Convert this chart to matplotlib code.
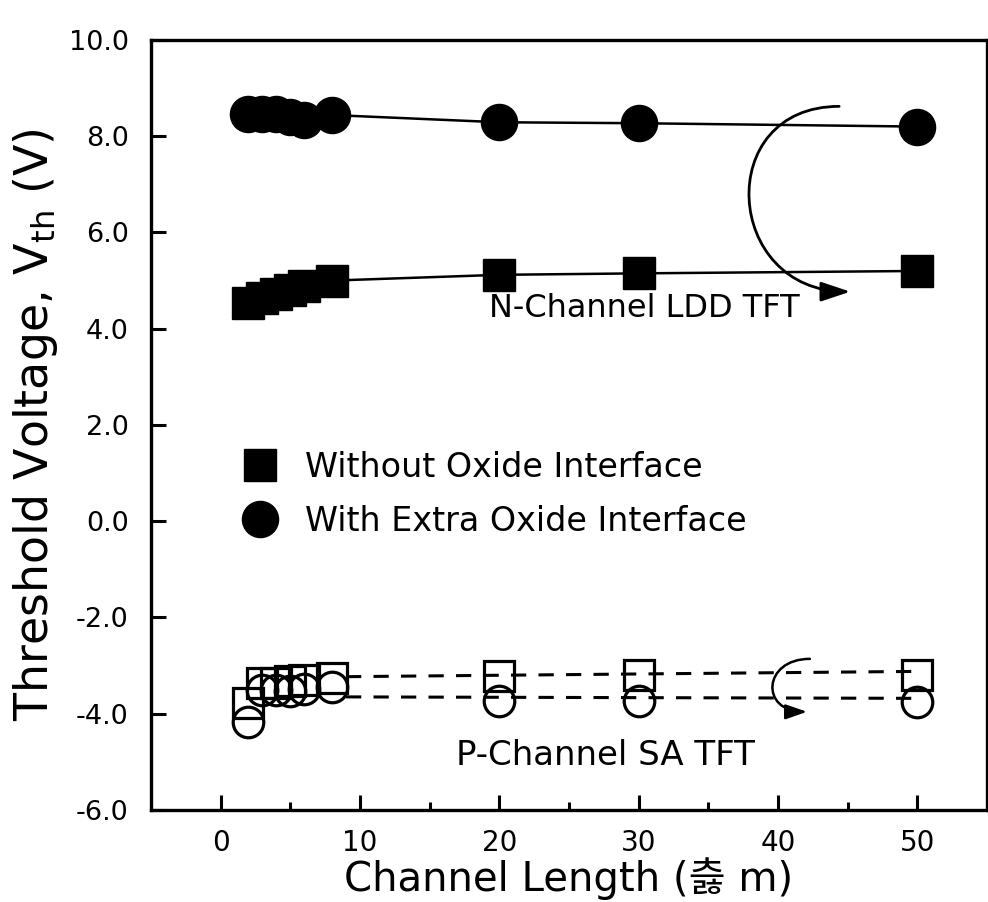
import matplotlib
matplotlib.use("Agg")
import matplotlib.pyplot as plt
from matplotlib.lines import Line2D
from matplotlib.patches import FancyArrowPatch
from matplotlib.path import Path

plt.rcParams['font.family'] = ['DejaVu Sans', 'Noto Sans CJK KR']
plt.rcParams['mathtext.default'] = 'regular'

# ---- data ----
length = [2, 3, 4, 5, 6, 8, 20, 30, 50]
n_without = [4.53, 4.64, 4.72, 4.80, 4.88, 5.00, 5.12, 5.15, 5.20]
n_with = [8.47, 8.47, 8.46, 8.40, 8.33, 8.44, 8.29, 8.27, 8.20]
p_without = [-3.77, -3.36, -3.36, -3.33, -3.30, -3.25, -3.21, -3.20, -3.19]
p_with = [-4.17, -3.50, -3.50, -3.52, -3.48, -3.44, -3.73, -3.74, -3.75]
# dashed fit lines of the P-channel devices
p_fit_x = [9, 50]
p_fit_without = [-3.23, -3.12]
p_fit_with = [-3.65, -3.68]

xticks = [0, 10, 20, 30, 40, 50]
yticks = [-6, -4, -2, 0, 2, 4, 6, 8, 10]
ytick_labels = ['-6.0', '-4.0', '-2.0', '0.0', '2.0', '4.0', '6.0', '8.0', '10.0']
legend_labels = ['Without Oxide Interface', 'With Extra Oxide Interface']
unit_char = chr(0xAC00 + (14 * 21 + 18) * 28 + 15)

# curved arrows (start, end, bulge to the left in x-units)
n_arrow = ((44.4, 8.62), (45.2, 4.77), 9.1)
p_arrow = ((42.3, -2.86), (42.1, -3.96), 3.4)

fig = plt.figure(figsize=(9.88, 9.02), dpi=100)
ax = fig.add_axes([0.1528, 0.102, 0.846, 0.8537])

ax.plot(length, n_without, '-', color='black', lw=1.8, marker='s',
        ms=23.5, mfc='black', mec='black')
ax.plot(length, n_with, '-', color='black', lw=1.8, marker='o',
        ms=26, mfc='black', mec='black')

ax.plot(p_fit_x, p_fit_without, '--', color='black', lw=2.2, dashes=(5, 4))
ax.plot(p_fit_x, p_fit_with, '--', color='black', lw=2.2, dashes=(5, 4))
ax.plot(length, p_without, ls='none', marker='s', ms=21, mfc='none',
        mec='black', mew=2.3)
ax.plot(length, p_with, ls='none', marker='o', ms=22, mfc='none',
        mec='black', mew=2.3)

def curved_arrow(spec, lw, head):
    (x0, y0), (x1, y1), k = spec
    path = Path([(x0, y0), (x0 - k, y0), (x1 - k, y1), (x1, y1)],
                [Path.MOVETO, Path.CURVE4, Path.CURVE4, Path.CURVE4])
    arr = FancyArrowPatch(path=path, arrowstyle=head, color='black',
                          lw=lw, mutation_scale=1)
    ax.add_patch(arr)

curved_arrow(n_arrow, 2.0, '-|>,head_length=18,head_width=6')
curved_arrow(p_arrow, 1.8, '-|>,head_length=13,head_width=4.5')

ax.text(30.4, 4.42, 'N-Channel LDD TFT', fontsize=23, ha='center', va='center')
ax.text(27.6, -4.86, 'P-Channel SA TFT', fontsize=24.5, ha='center', va='center')

handles = [Line2D([], [], ls='none', marker='s', ms=23.5, color='black'),
           Line2D([], [], ls='none', marker='o', ms=26, color='black')]
ax.legend(handles, legend_labels, loc='upper left', bbox_to_anchor=(0.110, 0.466),
          frameon=False, fontsize=24, borderpad=0, borderaxespad=0,
          handlelength=1.0, handletextpad=0.85, labelspacing=0.62)

ax.set_xlim(-5, 55)
ax.set_ylim(-6, 10)
ax.set_xticks(xticks)
ax.set_xticks([5, 15, 25, 35, 45], minor=True)
ax.set_yticks(yticks)
ax.set_yticklabels(ytick_labels)
ax.tick_params(axis='both', which='major', direction='in', length=11, width=2.2)
ax.tick_params(axis='x', which='minor', direction='in', length=6, width=2.2)
ax.tick_params(axis='x', labelsize=20, pad=14)
ax.tick_params(axis='y', labelsize=19.5, pad=16)
for s in ax.spines.values():
    s.set_linewidth(2.4)

ax.set_xlabel('Channel Length (' + unit_char + ' m)', fontsize=29, labelpad=0)
ax.set_ylabel('Threshold Voltage, V$_{th}$ (V)', fontsize=33, labelpad=6)

fig.savefig('out.png', dpi=100)
